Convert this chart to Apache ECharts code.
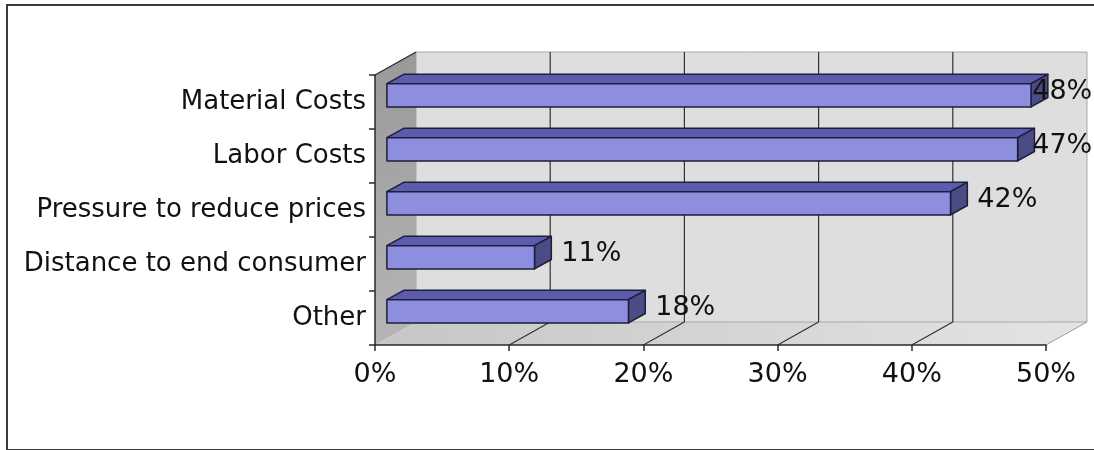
<!DOCTYPE html>
<html>
<head>
<meta charset="utf-8">
<script src="https://cdn.jsdelivr.net/npm/echarts@6/dist/echarts.min.js"></script>
<style>
  html, body { margin: 0; padding: 0; background: #fff; }
  #frame { position: absolute; left: 6px; top: 4px; width: 1100px; height: 443px; border: 2px solid #3a3a3a; border-right: none; }
  #chart { position: absolute; left: 0; top: 0; width: 1094px; height: 450px; }
</style>
</head>
<body>
<div id="frame"></div>
<div id="chart"></div>
<script>
// Reasons cited, share of respondents (%)
const categories = ['Material Costs', 'Labor Costs', 'Pressure to reduce prices', 'Distance to end consumer', 'Other'];
const shares = [48, 47, 42, 11, 18];
const tickLabels = ['0%', '10%', '20%', '30%', '40%', '50%'];

// Depth of the 3-D box (pixels the back plane is shifted from the front plane)
const DX = 41, DY = -23;
const BAR_FRONT = 0.29;   // bar front face as a fraction of the depth
const BAR_DEPTH = 0.41;   // bar thickness as a fraction of the depth
const BAR_HEIGHT = 0.43;  // bar height as a fraction of the category band

const chart = echarts.init(document.getElementById('chart'), null, { renderer: 'canvas' });

function renderBox(params, api) {
  const cs = params.coordSys;
  const left = cs.x, top = cs.y, bottom = cs.y + cs.height;
  const right = api.coord([50, 0])[0];
  const children = [];
  // floor
  children.push({
    type: 'polygon', z2: 1,
    shape: { points: [[left, bottom], [right, bottom], [right + DX, bottom + DY], [left + DX, bottom + DY]] },
    style: { fill: new echarts.graphic.LinearGradient(0, 0, 1, 1, [
      { offset: 0, color: '#c6c6c6' }, { offset: 1, color: '#e4e4e4' }]) }
  });
  // back wall
  children.push({
    type: 'rect', z2: 1,
    shape: { x: left + DX, y: top + DY, width: right - left, height: cs.height },
    style: { fill: '#dedede', stroke: '#a8a8a8', lineWidth: 1 }
  });
  // left wall
  children.push({
    type: 'polygon', z2: 2,
    shape: { points: [[left, top], [left + DX, top + DY], [left + DX, bottom + DY], [left, bottom]] },
    style: { fill: new echarts.graphic.LinearGradient(0, 0, 1, 1, [
      { offset: 0, color: '#999999' }, { offset: 1, color: '#b6b6b6' }]) }
  });
  // left wall top edge
  children.push({
    type: 'line', z2: 3,
    shape: { x1: left, y1: top, x2: left + DX, y2: top + DY },
    style: { stroke: '#2a2a2a', lineWidth: 1.3 }
  });
  // floor right edge
  children.push({
    type: 'line', z2: 3,
    shape: { x1: right, y1: bottom, x2: right + DX, y2: bottom + DY },
    style: { stroke: '#9a9a9a', lineWidth: 1 }
  });
  // gridlines on back wall and floor
  for (let v = 10; v < 50; v += 10) {
    const x = api.coord([v, 0])[0];
    children.push({
      type: 'line', z2: 3,
      shape: { x1: x + DX, y1: top + DY, x2: x + DX, y2: bottom + DY },
      style: { stroke: '#333', lineWidth: 1.2 }
    });
    children.push({
      type: 'line', z2: 3,
      shape: { x1: x, y1: bottom, x2: x + DX, y2: bottom + DY },
      style: { stroke: '#333', lineWidth: 1.2 }
    });
  }
  return { type: 'group', children: children };
}

function renderBar(params, api) {
  const v = api.value(0);
  const i = api.value(1);
  const p0 = api.coord([0, i]);
  const p1 = api.coord([v, i]);
  const band = api.size([0, 1])[1];
  const h = band * BAR_HEIGHT;
  const fx = DX * BAR_FRONT, fy = DY * BAR_FRONT;
  const bx = DX * BAR_DEPTH, by = DY * BAR_DEPTH;
  const x0 = p0[0] + fx, x1 = p1[0] + fx;
  const yt = p0[1] + fy - h / 2, yb = yt + h;
  const edge = { stroke: '#1e1e3a', lineWidth: 1.5, lineJoin: 'round' };

  // value label to the right of the bar, kept inside the chart
  const fontSize = 27;
  const labelW = fontSize * 2.25;
  let lx = x1 + bx + 10;
  const maxRight = params.coordSys.x + params.coordSys.width + DX + 6;
  if (lx + labelW > maxRight) lx = maxRight - labelW;

  return {
    type: 'group',
    children: [
      { type: 'polygon', z2: 10,
        shape: { points: [[x0, yt], [x1, yt], [x1 + bx, yt + by], [x0 + bx, yt + by]] },
        style: Object.assign({ fill: '#5c5cae' }, edge) },
      { type: 'polygon', z2: 10,
        shape: { points: [[x1, yt], [x1 + bx, yt + by], [x1 + bx, yb + by], [x1, yb]] },
        style: Object.assign({ fill: '#4b4b86' }, edge) },
      { type: 'rect', z2: 11,
        shape: { x: x0, y: yt, width: x1 - x0, height: h },
        style: Object.assign({ fill: '#8e8ede' }, edge) },
      { type: 'text', z2: 12,
        x: lx, y: yt + h / 2 + by / 3,
        style: { text: Math.round(v) + '%', fill: '#111', fontSize: fontSize,
          fontFamily: 'DejaVu Sans', align: 'left', verticalAlign: 'middle' } }
    ]
  };
}

chart.setOption({
  animation: false,
  backgroundColor: 'transparent',
  grid: { left: 375, top: 75, width: 671, height: 270 },
  xAxis: {
    type: 'value', min: 0, max: 50, interval: 10, z: 20,
    axisLine: { show: true, lineStyle: { color: '#2a2a2a', width: 1.5 } },
    axisTick: { show: true, length: 6, lineStyle: { color: '#2a2a2a', width: 1.5 } },
    splitLine: { show: false },
    axisLabel: {
      margin: 16, color: '#111', fontSize: 27, fontFamily: 'DejaVu Sans',
      formatter: function (val) { return tickLabels[Math.round(val / 10)]; }
    }
  },
  yAxis: {
    type: 'category', data: categories, inverse: true, z: 20,
    axisLine: { show: true, lineStyle: { color: '#2a2a2a', width: 1.5 } },
    axisTick: { show: true, length: 6, lineStyle: { color: '#2a2a2a', width: 1.5 } },
    axisLabel: { margin: 9, color: '#111', fontSize: 26, fontFamily: 'DejaVu Sans', padding: [6, 0, 0, 0] }
  },
  series: [
    {
      type: 'custom', name: 'box', z: 1, silent: true,
      renderItem: renderBox,
      data: [[0, 0]],
      encode: { x: 0, y: 1 }
    },
    {
      type: 'custom', name: 'share', z: 3,
      renderItem: renderBar,
      data: shares.map(function (v, i) { return [v, i]; }),
      encode: { x: 0, y: 1 }
    }
  ]
});
</script>
</body>
</html>
